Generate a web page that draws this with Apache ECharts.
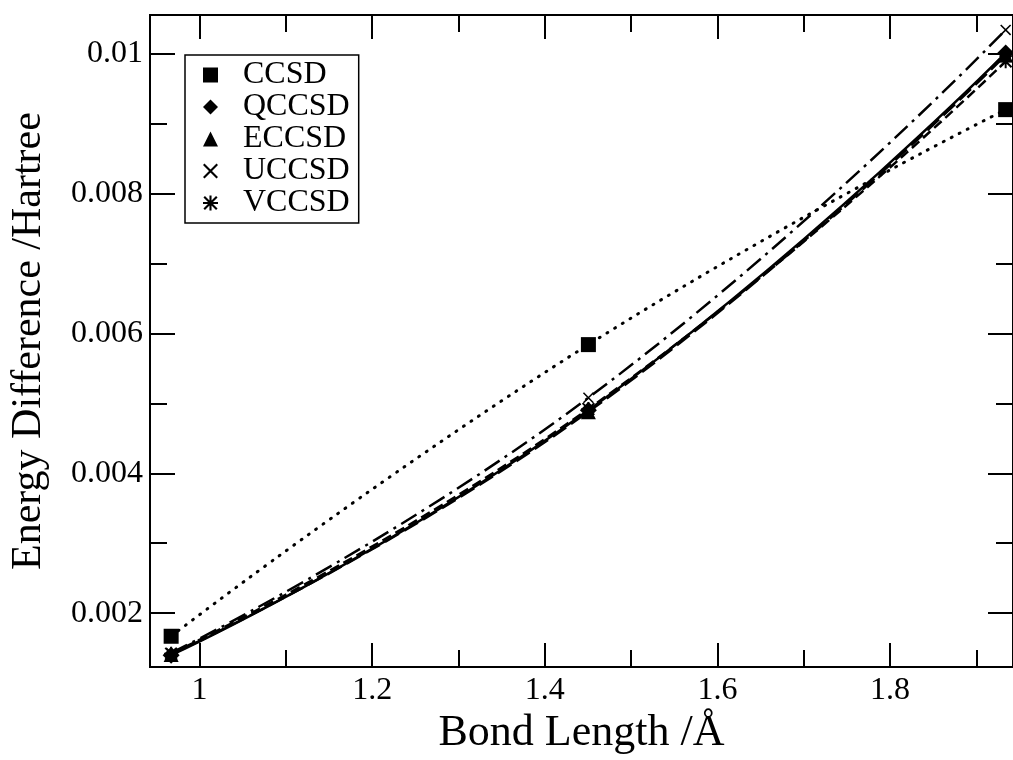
<!DOCTYPE html>
<html>
<head>
<meta charset="utf-8">
<style>html,body{margin:0;padding:0;background:#fff;}#c{width:1013px;height:760px;}</style>
<script src="https://cdn.jsdelivr.net/npm/echarts@6/dist/echarts.min.js"></script>
</head>
<body>
<div id="c"></div>
<script>
var bondLengths = [0.967, 1.4505, 1.934];
var ccsd  = [0.00167, 0.00584, 0.00920];
var qccsd = [0.00140, 0.00490, 0.01001];
var eccsd = [0.00141, 0.00488, 0.00998];
var uccsd = [0.00143, 0.00508, 0.01034];
var vccsd = [0.00142, 0.00492, 0.00989];
var seriesNames = ['CCSD', 'QCCSD', 'ECCSD', 'UCCSD', 'VCCSD'];
var xMajorTicks = [1, 1.2, 1.4, 1.6, 1.8];
var xMinorTicks = [1.1, 1.3, 1.5, 1.7, 1.9];
var yMajorTicks = [0.002, 0.004, 0.006, 0.008, 0.01];
var yMinorTicks = [0.003, 0.005, 0.007, 0.009];

var FONT = '"Liberation Serif", "Times New Roman", serif';
var xMin = 0.9425, xMax = 1.9425;
var yMin = 0.001229, yMax = 0.010553;

var crossPath = 'path://M1,0L10,9L9,10L0,1ZM9,0L10,1L1,10L0,9Z';
var starPath = 'path://M4.3,0L5.7,0L5.7,10L4.3,10ZM10,4.3L10,5.7L0,5.7L0,4.3ZM1.3,0.3L9.7,8.7L8.7,9.7L0.3,1.3ZM8.7,0.3L9.7,1.3L1.3,9.7L0.3,8.7Z';

function pairs(ys){ return bondLengths.map(function(x,i){ return [x, ys[i]]; }); }

var axisLineStyle = {color:'#000', width:2};
function xAxisDef(pos, ticks, len, labels){
  return {
    type:'value', min:xMin, max:xMax, position:pos,
    axisLine:{show:true, onZero:false, lineStyle:axisLineStyle},
    axisTick:{show:true, inside:true, length:len, customValues:ticks, lineStyle:{color:'#000', width:2}},
    axisLabel:{show:labels, customValues:ticks, color:'#000', fontFamily:FONT, fontSize:32, margin:7,
      formatter:function(v){ return String(+v.toFixed(2)); }},
    splitLine:{show:false}
  };
}
function yAxisDef(pos, ticks, len, labels){
  return {
    type:'value', min:yMin, max:yMax, position:pos,
    axisLine:{show:true, onZero:false, lineStyle:axisLineStyle},
    axisTick:{show:true, inside:true, length:len, customValues:ticks, lineStyle:{color:'#000', width:2}},
    axisLabel:{show:labels, customValues:ticks, color:'#000', fontFamily:FONT, fontSize:32, margin:7,
      formatter:function(v){ return String(+v.toFixed(3)); }},
    splitLine:{show:false}
  };
}

var xAxes = [
  xAxisDef('bottom', xMajorTicks, 24, true),
  xAxisDef('bottom', xMinorTicks, 17, false),
  xAxisDef('top', xMajorTicks, 24, false),
  xAxisDef('top', xMinorTicks, 17, false)
];
xAxes[0].name = 'Bond Length /\u00C5';
xAxes[0].nameLocation = 'middle';
xAxes[0].nameGap = 42;
xAxes[0].nameTextStyle = {color:'#000', fontFamily:FONT, fontSize:44};

var yAxes = [
  yAxisDef('left', yMajorTicks, 25, true),
  yAxisDef('left', yMinorTicks, 17, false),
  yAxisDef('right', yMajorTicks, 25, false),
  yAxisDef('right', yMinorTicks, 17, false)
];
yAxes[0].name = 'Energy Difference /Hartree';
yAxes[0].nameLocation = 'middle';
yAxes[0].nameGap = 100;
yAxes[0].nameTextStyle = {color:'#000', fontFamily:FONT, fontSize:42};

var styles = [
  {sym:'rect', size:15, line:{type:[1,8], width:3, cap:'round'}},
  {sym:'diamond', size:17, line:{type:'solid', width:2.5}},
  {sym:'triangle', size:15, line:{type:[16,6], width:2.5}},
  {sym:crossPath, size:11, line:{type:[18,6,3,6], width:2.5}},
  {sym:starPath, size:14, line:{type:[10,5], width:2.5}}
];
var dataSets = [ccsd, qccsd, eccsd, uccsd, vccsd];

var series = seriesNames.map(function(n, i){
  return {
    name:n, type:'line', xAxisIndex:0, yAxisIndex:0,
    data:pairs(dataSets[i]), smooth:0.5,
    symbol:styles[i].sym, symbolSize:styles[i].size,
    itemStyle:{color:'#000', borderWidth:0},
    lineStyle:{color:'#000', width:styles[i].line.width, type:styles[i].line.type, cap:styles[i].line.cap || 'butt'},
    emphasis:{disabled:true}, z: 2 + i
  };
});

var chart = echarts.init(document.getElementById('c'), null, {renderer:'canvas'});
chart.setOption({
  animation:false,
  backgroundColor:'#fff',
  grid:{left:144, right:-1, top:15, bottom:88, containLabel:false},
  xAxis:xAxes,
  yAxis:yAxes,
  legend:{
    orient:'vertical', left:185, top:55,
    padding:[4, 9, 4, 18],
    borderColor:'#000', borderWidth:1.5,
    itemWidth:15, itemHeight:15, itemGap:0,
    data:seriesNames.map(function(n,i){
      return {name:n, icon:styles[i].sym, itemStyle:{color:'#000'}};
    }),
    textStyle:{color:'#000', fontFamily:FONT, fontSize:32, lineHeight:32, padding:[0,0,0,20]},
    selectedMode:false
  },
  series:series
});
</script>
</body>
</html>
